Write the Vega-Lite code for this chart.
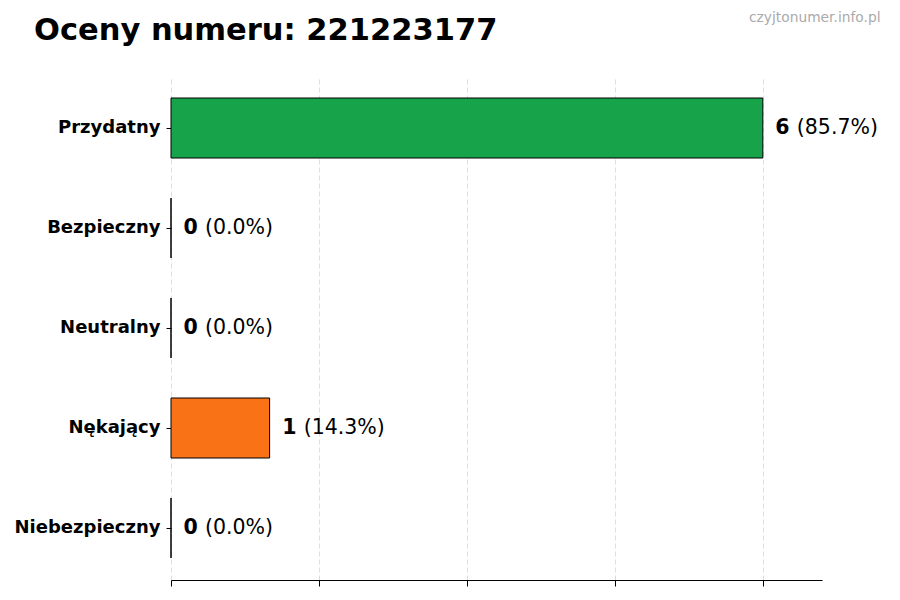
{
  "$schema": "https://vega.github.io/schema/vega-lite/v6.json",
  "width": 651,
  "height": 504,
  "autosize": "none",
  "padding": {"left": 171, "top": 76, "right": 78, "bottom": 20},
  "background": "white",
  "title": {
    "text": "Oceny numeru: 221223177",
    "anchor": "start",
    "frame": "group",
    "dx": -137,
    "offset": -60,
    "baseline": "alphabetic",
    "font": "DejaVu Sans",
    "fontSize": 30.5,
    "fontWeight": "bold",
    "color": "black"
  },
  "data": {
    "values": [
      {"category": "Przydatny", "count": 6, "label": "(85.7%)"},
      {"category": "Bezpieczny", "count": 0, "label": "(0.0%)"},
      {"category": "Neutralny", "count": 0, "label": "(0.0%)"},
      {"category": "Nękający", "count": 1, "label": "(14.3%)"},
      {"category": "Niebezpieczny", "count": 0, "label": "(0.0%)"}
    ]
  },
  "encoding": {
    "y": {
      "field": "category",
      "type": "nominal",
      "sort": null,
      "scale": {"paddingInner": 0.4, "paddingOuter": 0.22},
      "axis": {
        "title": null,
        "domain": false,
        "ticks": true,
        "tickSize": 5,
        "tickColor": "black",
        "labelPadding": 6,
        "labelFont": "DejaVu Sans",
        "labelFontSize": 18,
        "labelFontWeight": "bold",
        "labelColor": "black",
        "grid": false
      }
    },
    "x": {
      "field": "count",
      "type": "quantitative",
      "scale": {"domain": [0, 6.6], "nice": false},
      "axis": {
        "values": [0, 1.5, 3, 4.5, 6],
        "labels": false,
        "ticks": true,
        "tickSize": 6,
        "tickColor": "black",
        "domain": true,
        "domainColor": "black",
        "domainWidth": 1,
        "grid": true,
        "gridDash": [5, 3],
        "gridColor": "#d4d4d4",
        "gridWidth": 0.8,
        "title": "czyjtonumer.info.pl",
        "titleX": 709,
        "titleY": -559,
        "titleAlign": "right",
        "titleBaseline": "alphabetic",
        "titleFont": "DejaVu Sans",
        "titleFontSize": 13.8,
        "titleFontWeight": "normal",
        "titleColor": "#aaaaaa"
      }
    }
  },
  "layer": [
    {
      "mark": {"type": "bar", "stroke": "black", "strokeWidth": 1},
      "encoding": {
        "color": {
          "field": "category",
          "type": "nominal",
          "legend": null,
          "scale": {
            "domain": ["Przydatny", "Bezpieczny", "Neutralny", "Nękający", "Niebezpieczny"],
            "range": ["#16a34a", "#3b82f6", "#9ca3af", "#f97316", "#dc2626"]
          }
        }
      }
    },
    {
      "mark": {
        "type": "text",
        "align": "left",
        "baseline": "middle",
        "dx": 12.5,
        "font": "DejaVu Sans",
        "fontSize": 20.5,
        "fontWeight": "bold",
        "color": "black"
      },
      "encoding": {"text": {"field": "count", "type": "quantitative"}}
    },
    {
      "mark": {
        "type": "text",
        "align": "left",
        "baseline": "middle",
        "dx": 34,
        "font": "DejaVu Sans",
        "fontSize": 20.5,
        "color": "black"
      },
      "encoding": {"text": {"field": "label", "type": "nominal"}}
    }
  ],
  "config": {"view": {"stroke": null}}
}
